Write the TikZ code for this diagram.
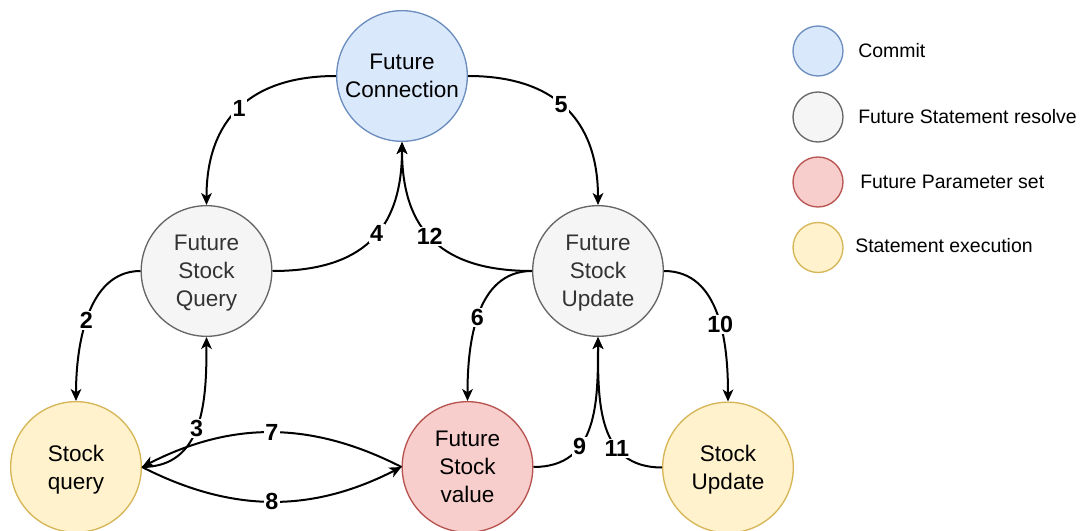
\documentclass[tikz,border=0pt]{standalone}
\usepackage{fontspec}
\setmainfont{Liberation Sans}
\usetikzlibrary{arrows.meta}

\definecolor{commitfill}{HTML}{DAE8FC}
\definecolor{commitline}{HTML}{6C8EBF}
\definecolor{resolvefill}{HTML}{F5F5F5}
\definecolor{resolveline}{HTML}{666666}
\definecolor{resolvetext}{HTML}{333333}
\definecolor{paramfill}{HTML}{F8CECC}
\definecolor{paramline}{HTML}{B85450}
\definecolor{execfill}{HTML}{FFF2CC}
\definecolor{execline}{HTML}{D6B656}

\tikzset{
  stnode/.style={circle, minimum size=98pt, inner sep=0pt, line width=1pt, align=center,
    text depth=0pt, font=\fontsize{16.9}{21}\selectfont},
  commit/.style={fill=commitfill, draw=commitline},
  resolve/.style={fill=resolvefill, draw=resolveline, text=resolvetext},
  param/.style={fill=paramfill, draw=paramline},
  exec/.style={fill=execfill, draw=execline},
  legendmark/.style={circle, minimum size=37.5pt, inner sep=0pt, line width=1pt},
  legendtext/.style={anchor=base west, inner sep=0pt, font=\fontsize{14.6}{17}\selectfont},
  flow/.style={line width=1.5pt, -{Stealth[length=9pt,width=8pt,inset=2.5pt]}},
  num/.style={fill=white, inner sep=1pt, font=\fontsize{17.5}{20}\selectfont\bfseries},
}

\begin{document}
\begin{tikzpicture}[x=0.75pt, y=-0.75pt]
  \fill[white] (0,0) rectangle (1083,531);
  \useasboundingbox (0,0) rectangle (1083,531);

  % states
  \node[stnode, commit]  (fc)  at (402,76)    {Future\\Connection};
  \node[stnode, resolve] (fsq) at (206.5,271) {Future\\Stock\\Query};
  \node[stnode, resolve] (fsu) at (598,271)   {Future\\Stock\\Update};
  \node[stnode, exec]    (sq)  at (76,467)    {Stock\\query};
  \node[stnode, param]   (fsv) at (467.5,467) {Future\\Stock\\value};
  \node[stnode, exec]    (su)  at (728,467.5) {Stock\\Update};

  % transitions
  \draw[flow] (fc.west) to[out=180, in=90, looseness=1.2] node[num] {1} (fsq.north);
  \draw[flow] (fc.east) to[out=0, in=90, looseness=1.2] node[num, pos=0.47] {5} (fsu.north);
  \draw[flow] (fsq.east) to[out=0, in=-90, looseness=1.25] node[num, pos=0.55] {4} (fc.south);
  \draw[flow] (fsu.west) to[out=180, in=-90, looseness=1.25] node[num, pos=0.53] {12} (fc.south);
  \draw[flow] (fsq.west) to[out=180, in=90, looseness=0.95] node[num, pos=0.53] {2} (sq.north);
  \draw[flow] (fsu.west) to[out=180, in=90] node[num, pos=0.52] {6} (fsv.north);
  \draw[flow] (fsu.east) to[out=0, in=90] node[num, pos=0.56] {10} (su.north);
  \draw[flow] (sq.east) to[out=0, in=-90, looseness=1.1] node[num, pos=0.48] {3} (fsq.south);
  \draw[flow] (fsv.east) to[out=0, in=-90, looseness=1.14] node[num, pos=0.34] {9} (fsu.south);
  \draw[flow] (su.west) to[out=180, in=-90, looseness=1.14] node[num, pos=0.33] {11} (fsu.south);
  \draw[flow] (fsv.west) to[bend right=27] node[num] {7} (sq.east);
  \draw[flow] (sq.east) to[bend right=27] node[num] {8} (fsv.west);

  % legend
  \node[legendmark, commit]  (k1) at (818,51)    {};
  \node[legendmark, resolve] (k2) at (818,117)   {};
  \node[legendmark, param]   (k3) at (818,182)   {};
  \node[legendmark, exec]    (k4) at (818,247.5) {};
  \node[legendtext] (t1) at (858,57.5)  {Commit};
  \node[legendtext] (t2) at (858,124) {Future Statement resolve};
  \node[legendtext] (t3) at (860,188.5) {Future Parameter set};
  \node[legendtext] (t4) at (855,252.5) {Statement execution};
\end{tikzpicture}
\end{document}
